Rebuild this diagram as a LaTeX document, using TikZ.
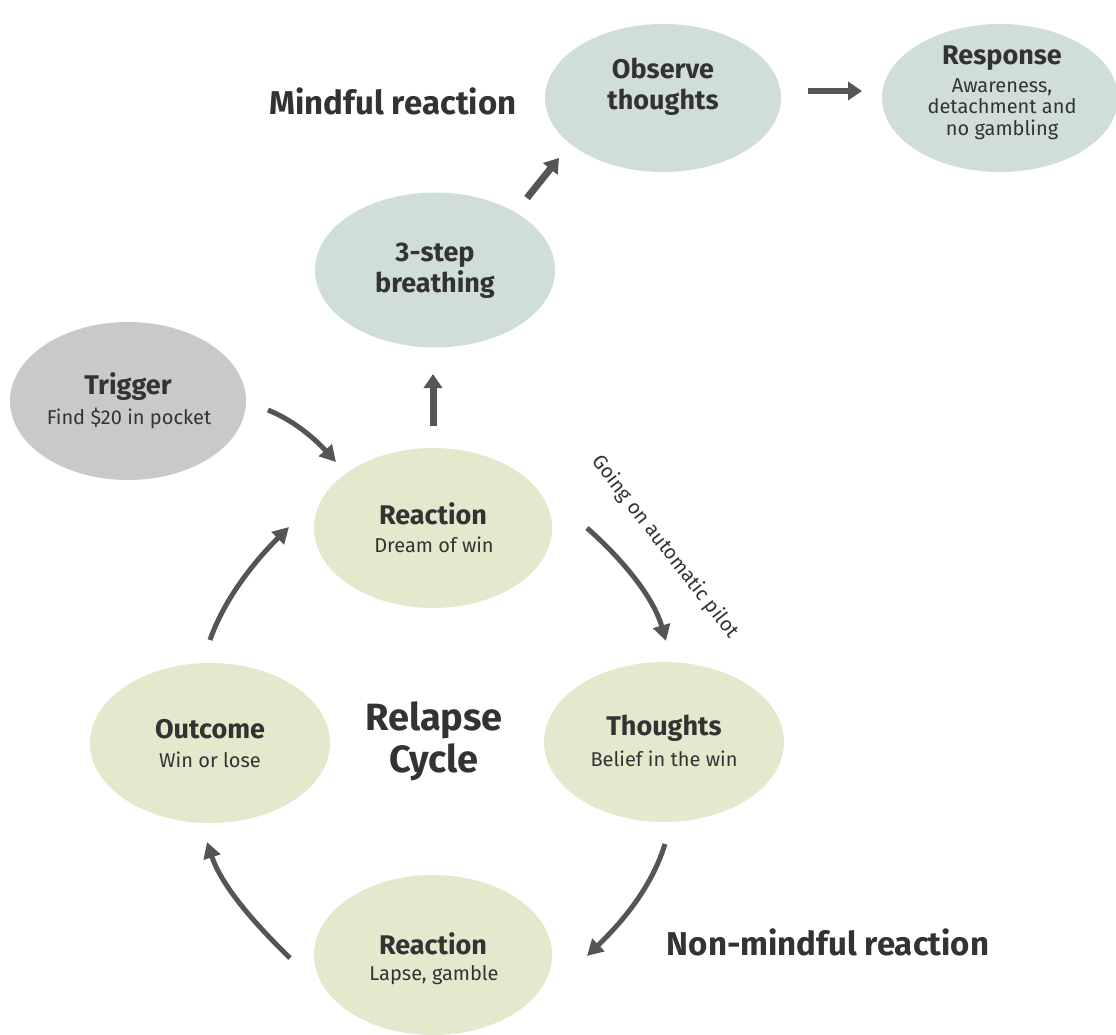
\documentclass[tikz,border=0pt]{standalone}
\usepackage{fontspec}
\setmainfont{Fira Sans}
\usetikzlibrary{shapes.geometric,arrows.meta}
\definecolor{tealc}{RGB}{207,222,216}
\definecolor{grayc}{RGB}{200,201,200}
\definecolor{olivec}{RGB}{228,232,204}
\definecolor{arrowc}{RGB}{85,85,85}
\definecolor{textc}{RGB}{51,51,51}
\tikzset{
  blob/.style={ellipse, draw=none, inner sep=0pt, minimum width=#1},
  tealblob/.style={blob=236pt, fill=tealc, minimum height=148pt},
  oliveblob/.style={blob=238pt, fill=olivec, minimum height=160pt},
  txt/.style={text=textc, align=center, inner sep=0pt},
  ttl/.style={txt, font=\fontsize{27}{31}\selectfont\bfseries},
  sub/.style={txt, font=\fontsize{20}{21.5}\selectfont},
  big/.style={txt, font=\fontsize{33}{38}\selectfont\bfseries},
  cyc/.style={line width=5pt, draw=arrowc, -{Triangle[length=16pt,width=17pt]}},
  straight/.style={line width=7pt, draw=arrowc, -{Triangle[length=14pt,width=18pt]}},
}
\begin{document}
\begin{tikzpicture}[x=1pt,y=-1pt]
\useasboundingbox (0,0) rectangle (1116,1035);
\begin{scope}
\clip (0,0) rectangle (1116,1035);
% ellipses
\node[tealblob] (obs) at (663,98) {};
\node[tealblob, minimum width=236pt] (resp) at (1000,98) {};
\node[blob=240pt, fill=tealc, minimum height=155pt] (breath) at (435,270) {};
\node[blob=236pt, fill=grayc, minimum height=158pt] (trig) at (128,401) {};
\node[oliveblob] (react) at (433,528) {};
\node[oliveblob, minimum width=240pt] (outc) at (210,743) {};
\node[oliveblob, minimum width=240pt] (thou) at (664,742) {};
\node[oliveblob] (lapse) at (433,955) {};
\end{scope}
% texts
\node[ttl] (obst) at (663,87) {Observe\\thoughts};
\node[ttl] (respt) at (1002,58) {Response};
\node[sub] (respd) at (1002,109) {Awareness,\\detachment and\\no gambling};
\node[ttl] (breatht) at (435,271) {3-step\\breathing};
\node[ttl] (trigt) at (128,387) {Trigger};
\node[sub] (trigd) at (129,418) {Find \$20 in pocket};
\node[ttl] (reactt) at (433,514) {Reaction};
\node[sub] (reactd) at (434,545) {Dream of win};
\node[ttl] (outct) at (210,729) {Outcome};
\node[sub] (outcd) at (210,760) {Win or lose};
\node[ttl] (thout) at (664,728) {Thoughts};
\node[sub] (thoud) at (664,759) {Belief in the win};
\node[ttl] (lapset) at (433,944) {Reaction};
\node[sub] (lapsed) at (434,975) {Lapse, gamble};
\node[big] (mind) at (393,101) {Mindful reaction};
\node[big] (nonmind) at (828,942) {Non-mindful reaction};
\node[txt, font=\fontsize{38}{42}\selectfont\bfseries] (relapse) at (434,741) {Relapse\\Cycle};
\node[sub, rotate=-52] (pilot) at (665,547) {Going on automatic pilot};
% connector end points
\coordinate (a1s) at (433,426); \coordinate (a1e) at (433,374);
\coordinate (a2s) at (527,198); \coordinate (a2e) at (559,158);
\coordinate (a3s) at (808,91);  \coordinate (a3e) at (862,91);
\coordinate (c0s) at (268,410); \coordinate (c0e) at (336,462);
\coordinate (c1s) at (587,528); \coordinate (c1e) at (666,641);
\coordinate (c2s) at (665,844); \coordinate (c2e) at (587,956);
\coordinate (c3s) at (290,958); \coordinate (c3e) at (207,842);
\coordinate (c4s) at (210,640); \coordinate (c4e) at (289,527);
% connectors
\draw[straight] (a1s) -- (a1e);
\draw[straight] (a2s) -- (a2e);
\draw[straight, line width=6pt] (a3s) -- (a3e);
\draw[cyc] (c0s) .. controls (295,421) and (316,440) .. (c0e);
\draw[cyc] (c1s) .. controls (621,558) and (653,596) .. (c1e);
\draw[cyc] (c2s) .. controls (651,889) and (621,923) .. (c2e);
\draw[cyc] (c3s) .. controls (257,926) and (222,887) .. (c3e);
\draw[cyc] (c4s) .. controls (225,597) and (256,560) .. (c4e);
\end{tikzpicture}
\end{document}
